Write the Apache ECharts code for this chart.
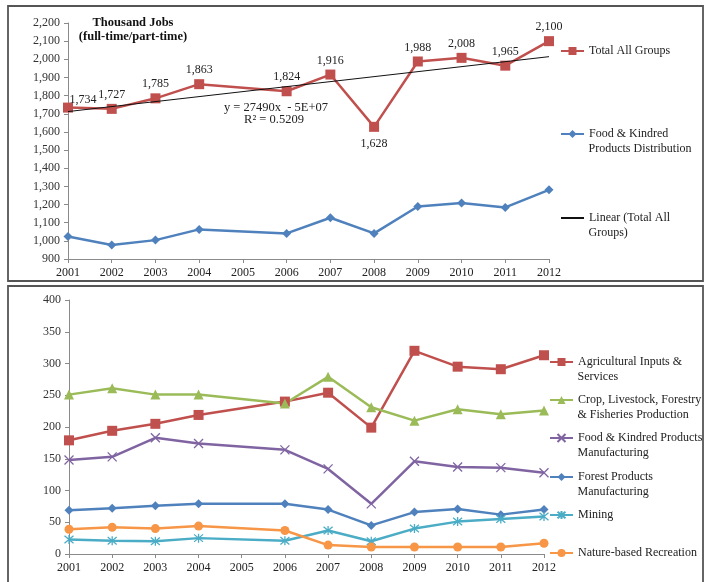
<!DOCTYPE html>
<html>
<head>
<meta charset="utf-8">
<script src="https://cdn.jsdelivr.net/npm/echarts@6/dist/echarts.min.js"></script>
<style>
html,body{margin:0;padding:0;background:#fff;}
#c{width:707px;height:582px;}
</style>
</head>
<body>
<div id="c"></div>
<script>
// ---------- DATA ----------
var years = [2001, 2002, 2003, 2004, 2006, 2007, 2008, 2009, 2010, 2011, 2012];
var yearTicksMin = 2001, yearTicksMax = 2012;

var totalAllGroups = [1734, 1727, 1785, 1863, 1824, 1916, 1628, 1988, 2008, 1965, 2100];
var foodDistribution = [1024, 977, 1004, 1063, 1041, 1127, 1041, 1189, 1208, 1184, 1281];

var agInputs = [179, 194, 205, 219, 240, 254, 199, 320, 295, 291, 313];
var cropLivestock = [251, 261, 251, 251, 237, 279, 231, 210, 228, 220, 226];
var foodMfg = [148, 153, 183, 174, 164, 134, 79, 146, 137, 136, 128];
var forestMfg = [69, 72, 76, 79, 79, 70, 45, 66, 71, 62, 70];
var mining = [23, 21, 20, 25, 21, 37, 20, 40, 51, 55, 59];
var natureRec = [39, 42, 40, 44, 37, 14, 11, 11, 11, 11, 17];

var topTitle = ['Thousand Jobs', '(full-time/part-time)'];
var trendEq = 'y = 27490x  - 5E+07';
var trendR2 = 'R\u00b2 = 0.5209';

// ---------- helpers ----------
function zip(xs, ys) { return xs.map(function (x, i) { return [x, ys[i]]; }); }
function fmt(v) { return String(v).replace(/\B(?=(\d{3})+(?!\d))/g, ','); }

// linear regression of Total All Groups (trendline)
var n = years.length, sx = 0, sy = 0, sxx = 0, sxy = 0;
for (var i = 0; i < n; i++) { sx += years[i]; sy += totalAllGroups[i]; sxx += years[i] * years[i]; sxy += years[i] * totalAllGroups[i]; }
var slope = (n * sxy - sx * sy) / (n * sxx - sx * sx);
var intercept = (sy - slope * sx) / n;
var trendData = [[yearTicksMin, slope * yearTicksMin + intercept], [yearTicksMax, slope * yearTicksMax + intercept]];

var SERIF = '"Liberation Serif", "Times New Roman", serif';
var FS = 12;
var C = {
  red: '#C0504D', blue: '#4F81BD', green: '#9BBB59', purple: '#8064A2', teal: '#4BACC6', orange: '#F79646'
};
var xSym = 'path://M0,0 L10,10 M10,0 L0,10';
var starSym = 'path://M0,0 L10,10 M10,0 L0,10 M5,-1 L5,11';

function xAxis(gi) {
  return {
    type: 'value', gridIndex: gi, min: yearTicksMin, max: yearTicksMax, interval: 1,
    axisLine: { lineStyle: { color: '#8a8a8a', width: 1 } },
    axisTick: { show: true, length: 4, lineStyle: { color: '#8a8a8a' } },
    splitLine: { show: false },
    axisLabel: { formatter: function (v) { return String(v); }, fontFamily: SERIF, fontSize: FS, color: '#222', margin: 8 }
  };
}
function yAxis(gi, min, max, interval) {
  return {
    type: 'value', gridIndex: gi, min: min, max: max, interval: interval,
    axisLine: { show: true, lineStyle: { color: '#8a8a8a', width: 1 } },
    axisTick: { show: true, length: 4, lineStyle: { color: '#8a8a8a' } },
    splitLine: { show: false },
    axisLabel: { formatter: function (v) { return fmt(v); }, fontFamily: SERIF, fontSize: FS, color: '#333', margin: 8 }
  };
}
function lineSeries(name, data, color, symbol, size, gi, extra) {
  var s = {
    name: name, type: 'line', xAxisIndex: gi, yAxisIndex: gi,
    data: zip(years, data), symbol: symbol, symbolSize: size,
    lineStyle: { color: color, width: 2.5 },
    itemStyle: { color: color, borderColor: color, borderWidth: symbol.indexOf('path') === 0 ? 1.3 : 0 },
    emphasis: { disabled: true }, animation: false, z: 3
  };
  if (extra) for (var k in extra) s[k] = extra[k];
  return s;
}
var LH = 14.5;
var extraLines = [];
function legend(name, left, cy, text, hideSymbol) {
  var lines = text.split('\n');
  if (lines.length > 1) {
    extraLines.push({ type: 'text', x: left + 28.5, y: cy + LH, style: { text: lines[1], font: FS + 'px ' + SERIF, fill: '#222', verticalAlign: 'middle' }, silent: true });
  }
  var item = hideSymbol ? { name: name, itemStyle: { opacity: 0 } } : name;
  return {
    data: [item], left: left, top: cy - LH / 2, itemWidth: 23, itemHeight: 10, itemGap: 0, padding: 0,
    selectedMode: false,
    formatter: function () { return lines[0]; },
    textStyle: { fontFamily: SERIF, fontSize: FS, color: '#222', lineHeight: LH }
  };
}

var legends = [
  legend('Total All Groups', 560, 51, 'Total All Groups'),
  legend('Food & Kindred Products Distribution', 560, 134, 'Food & Kindred\nProducts Distribution'),
  legend('Linear (Total All Groups)', 560, 218, 'Linear (Total All\nGroups)', true),
  legend('Agricultural Inputs & Services', 549, 362, 'Agricultural Inputs &\nServices'),
  legend('Crop, Livestock, Forestry & Fisheries Production', 549, 400, 'Crop, Livestock, Forestry\n& Fisheries Production'),
  legend('Food & Kindred Products Manufacturing', 549, 438, 'Food & Kindred Products\nManufacturing'),
  legend('Forest Products Manufacturing', 549, 477, 'Forest Products\nManufacturing'),
  legend('Mining', 549, 515, 'Mining'),
  legend('Nature-based Recreation', 549, 553, 'Nature-based Recreation')
];

var totalData = zip(years, totalAllGroups).map(function (d, i) {
  var item = { value: d };
  if (totalAllGroups[i] === Math.min.apply(null, totalAllGroups)) item.label = { position: 'bottom', distance: 6 };
  if (i === 0) item.label = { offset: [15, 6] };
  return item;
});

var option = {
  animation: false,
  backgroundColor: '#fff',
  grid: [
    { left: 68, right: 158, top: 23, bottom: 323 },
    { left: 69, right: 163, top: 300, bottom: 28 }
  ],
  xAxis: [xAxis(0), xAxis(1)],
  yAxis: [yAxis(0, 900, 2200, 100), yAxis(1, 0, 400, 50)],
  legend: legends,
  series: [
    {
      name: 'Linear (Total All Groups)', type: 'line', xAxisIndex: 0, yAxisIndex: 0,
      data: trendData, symbol: 'none', lineStyle: { color: '#111', width: 1 }, itemStyle: { color: '#111' },
      emphasis: { disabled: true }, z: 4, animation: false
    },
    lineSeries('Total All Groups', totalAllGroups, C.red, 'rect', 10, 0, {
      data: totalData,
      label: {
        show: true, position: 'top', distance: 3, fontFamily: SERIF, fontSize: FS, color: '#222',
        formatter: function (p) { return fmt(p.value[1]); }
      }
    }),
    lineSeries('Food & Kindred Products Distribution', foodDistribution, C.blue, 'diamond', 9, 0),
    lineSeries('Agricultural Inputs & Services', agInputs, C.red, 'rect', 10, 1),
    lineSeries('Crop, Livestock, Forestry & Fisheries Production', cropLivestock, C.green, 'triangle', 10, 1),
    lineSeries('Food & Kindred Products Manufacturing', foodMfg, C.purple, xSym, 9, 1),
    lineSeries('Forest Products Manufacturing', forestMfg, C.blue, 'diamond', 9, 1),
    lineSeries('Mining', mining, C.teal, starSym, 9, 1),
    lineSeries('Nature-based Recreation', natureRec, C.orange, 'circle', 9, 1)
  ],
  graphic: [
    { type: 'rect', shape: { x: 8, y: 6, width: 695, height: 275 }, style: { fill: 'none', stroke: '#555', lineWidth: 1.8 }, silent: true },
    { type: 'rect', shape: { x: 8, y: 286, width: 695, height: 310 }, style: { fill: 'none', stroke: '#555', lineWidth: 1.8 }, silent: true },
    { type: 'text', x: 133, y: 16, style: { text: topTitle[0] + '\n' + topTitle[1], font: 'bold 12.5px ' + SERIF, fill: '#111', align: 'center', lineHeight: 14 }, silent: true },
    { type: 'text', x: 276, y: 108, style: { text: trendEq, font: '12.5px ' + SERIF, fill: '#222', align: 'center', verticalAlign: 'middle' }, silent: true },
    { type: 'text', x: 274, y: 120, style: { text: trendR2, font: '12.5px ' + SERIF, fill: '#222', align: 'center', verticalAlign: 'middle' }, silent: true }
  ].concat(extraLines)
};

var chart = echarts.init(document.getElementById('c'), null, { renderer: 'canvas' });
chart.setOption(option);
</script>
</body>
</html>
